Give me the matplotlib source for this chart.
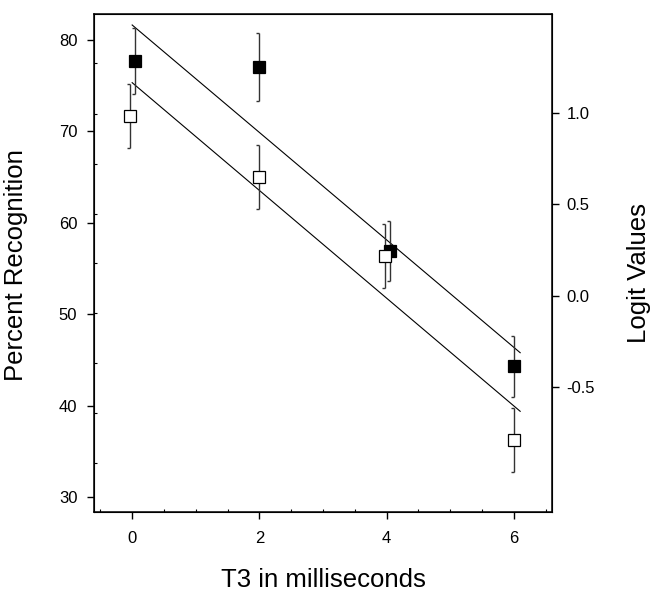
import numpy as np
import matplotlib
matplotlib.use("Agg")
import matplotlib.pyplot as plt

plt.rcParams['font.family'] = ['Liberation Sans', 'DejaVu Sans']
plt.rcParams['axes.unicode_minus'] = False

# filled squares
filled_x = [0.05, 2.0, 4.05, 6.0]
filled_y = [77.7, 77.0, 56.9, 44.3]
filled_err = [3.6, 3.7, 3.3, 3.3]

# open squares
open_x = [-0.03, 2.0, 3.97, 6.0]
open_y = [71.7, 65.0, 56.4, 36.3]
open_err = [3.5, 3.45, 3.5, 3.5]

# fitted lines (end points)
fit_x = [0.0, 6.1]
upper_fit = [81.6, 45.8]
lower_fit = [75.3, 39.4]

x_ticks = [0, 2, 4, 6]
y_ticks = [30, 40, 50, 60, 70, 80]
y_inner_ticks = [33.7, 39.2, 44.7, 50.1, 55.6, 61.0, 66.4, 71.9, 77.5]
logit_ticks = [-0.5, 0.0, 0.5, 1.0]
logit_labels = ['-0.5', '0.0', '0.5', '1.0']

fig = plt.figure(figsize=(6.5, 5.91), dpi=100)
ax = fig.add_axes([0.1446, 0.1337, 0.7046, 0.8426])

ax.plot(fit_x, upper_fit, color='black', lw=0.8, zorder=2)
ax.plot(fit_x, lower_fit, color='black', lw=0.8, zorder=2)

for xs, ys, es, face in [(filled_x, filled_y, filled_err, 'black'),
                         (open_x, open_y, open_err, 'white')]:
	xs = np.array(xs)
	ys = np.array(ys)
	es = np.array(es)
	ax.errorbar(xs, ys, yerr=es, fmt='none', ecolor='#333333', elinewidth=1.0, capsize=0, zorder=3)
	# half caps at the bar ends
	ax.plot(xs, ys + es, linestyle='none', marker=0, markersize=2.5, color='#333333', mew=1, zorder=3)
	ax.plot(xs, ys - es, linestyle='none', marker=0, markersize=2.5, color='#333333', mew=1, zorder=3)
	ax.plot(xs, ys, linestyle='none', marker='s', markersize=8, markerfacecolor=face,
	        markeredgecolor='black', markeredgewidth=0.9, zorder=4)

ax.set_xlim(-0.6, 6.6)
ax.set_ylim(28.4, 82.8)
ax.set_xticks(x_ticks)
ax.set_xticks(np.arange(-0.5, 6.6, 0.5), minor=True)
ax.set_yticks(y_ticks)
ax.set_yticks(y_inner_ticks, minor=True)
ax.tick_params(axis='both', which='major', direction='out', length=5, width=1, labelsize=12)
ax.tick_params(axis='y', which='major', pad=7)
ax.tick_params(axis='x', which='major', pad=8.5)
ax.tick_params(axis='both', which='minor', direction='in', length=2, width=0.8)
for s in ax.spines.values():
	s.set_linewidth(1.1)

ax2 = ax.twinx()
ax2.set_ylim(-1.18, 1.54)
ax2.set_yticks(logit_ticks)
ax2.set_yticklabels(logit_labels)
ax2.tick_params(axis='y', which='major', direction='out', length=5, width=1, labelsize=12, pad=5.5)

ax.set_xlabel('T3 in milliseconds', fontsize=18.5)
ax.xaxis.set_label_coords(0.5, -0.112)
ax.set_ylabel('Percent Recognition', fontsize=18.5)
ax.yaxis.set_label_coords(-0.144, 0.496)
ax2.set_ylabel('Logit Values', fontsize=18.5)
ax2.yaxis.set_label_coords(1.164, 0.48)

fig.savefig('out.png', dpi=100)
